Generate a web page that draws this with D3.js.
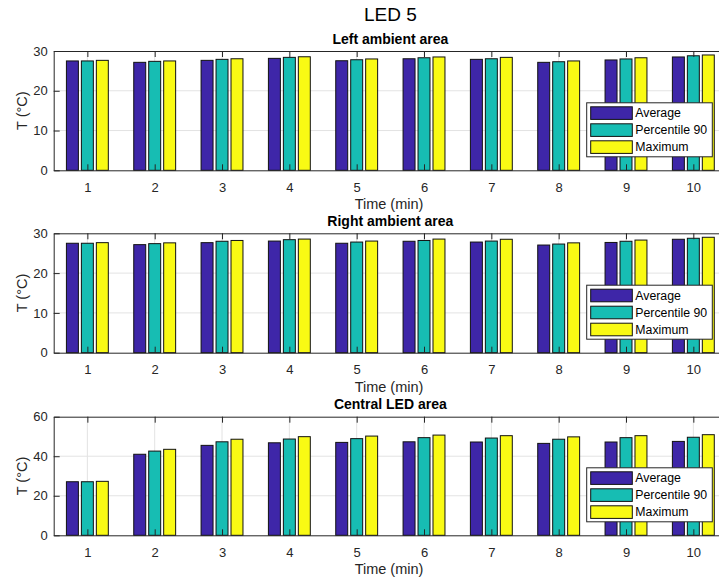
<!DOCTYPE html>
<html>
<head>
<meta charset="utf-8">
<script src="https://cdn.jsdelivr.net/npm/d3@7"></script>
<style>
  body { margin: 0; background: #fff; }
  svg { display: block; font-family: "Liberation Sans", Arial, sans-serif; }
</style>
</head>
<body>
<div id="chart"></div>
<script>
/* Data */
const minutes = [1, 2, 3, 4, 5, 6, 7, 8, 9, 10];
const seriesNames = ["Average", "Percentile 90", "Maximum"];

const leftAvg = [27.5, 27.15, 27.65, 28.15, 27.55, 28.05, 27.9, 27.15, 27.75, 28.5];
const leftP90 = [27.5, 27.4, 27.9, 28.4, 27.8, 28.3, 28.05, 27.3, 28.0, 28.8];
const leftMax = [27.65, 27.5, 28.05, 28.55, 28.0, 28.5, 28.4, 27.5, 28.3, 29.0];

const rightAvg = [27.5, 27.15, 27.65, 28.05, 27.5, 28.0, 27.8, 27.05, 27.7, 28.5];
const rightP90 = [27.5, 27.4, 28.0, 28.4, 27.8, 28.2, 28.05, 27.3, 28.0, 28.75];
const rightMax = [27.65, 27.6, 28.2, 28.55, 28.05, 28.55, 28.5, 27.6, 28.3, 29.0];

const centralAvg = [27.1, 41.0, 45.5, 46.8, 47.0, 47.3, 47.2, 46.5, 47.2, 47.5];
const centralP90 = [27.1, 42.6, 47.3, 48.7, 48.9, 49.4, 49.2, 48.6, 49.4, 49.6];
const centralMax = [27.3, 43.5, 48.6, 49.9, 50.2, 50.7, 50.4, 49.8, 50.4, 50.9];

const ticks30 = [0, 10, 20, 30];
const ticks60 = [0, 20, 40, 60];

/* Layout */
const WIDTH = 719;
const HEIGHT = 583;
const AX_LEFT = 53.7;
const AX_RIGHT = 727;
const TICK_LEN = 6;
const COLORS = ["#3e26a8", "#17bdb3", "#f9fa14"];
const AXIS_COLOR = "#262626";
const GRID_COLOR = "#e3e3e3";

const panels = [
  { title: "Left ambient area", top: 51, bottom: 170.3, max: 30, ticks: ticks30, series: [leftAvg, leftP90, leftMax] },
  { title: "Right ambient area", top: 233.3, bottom: 352.7, max: 30, ticks: ticks30, series: [rightAvg, rightP90, rightMax] },
  { title: "Central LED area", top: 416.7, bottom: 535.3, max: 60, ticks: ticks60, series: [centralAvg, centralP90, centralMax] }
];

/* MATLAB style grouped bar geometry (data units) */
const GROUP_WIDTH = Math.min(0.8, 3 / (3 + 1.5));
const BAR_W = GROUP_WIDTH / 3 * 0.8;
const offsets = [-GROUP_WIDTH / 3, 0, GROUP_WIDTH / 3];

const svg = d3.select("#chart")
  .append("svg")
  .attr("width", WIDTH)
  .attr("height", HEIGHT);

const xScale = d3.scaleLinear().domain([0.5, 10.5]).range([AX_LEFT, AX_RIGHT]);

svg.append("text")
  .attr("x", (AX_LEFT + AX_RIGHT) / 2)
  .attr("y", 21)
  .attr("text-anchor", "middle")
  .attr("font-size", "19px")
  .attr("fill", "#000")
  .text("LED 5");

panels.forEach((p) => {
  const yScale = d3.scaleLinear().domain([0, p.max]).range([p.bottom, p.top]);
  const g = svg.append("g");

  // grid
  g.selectAll(".hgrid")
    .data(p.ticks.slice(1, -1))
    .enter().append("line")
    .attr("x1", AX_LEFT).attr("x2", AX_RIGHT)
    .attr("y1", (d) => yScale(d)).attr("y2", (d) => yScale(d))
    .attr("stroke", GRID_COLOR).attr("stroke-width", 1);
  g.selectAll(".vgrid")
    .data(minutes)
    .enter().append("line")
    .attr("x1", (d) => xScale(d)).attr("x2", (d) => xScale(d))
    .attr("y1", p.top).attr("y2", p.bottom)
    .attr("stroke", GRID_COLOR).attr("stroke-width", 1);

  // bars
  p.series.forEach((vals, s) => {
    g.selectAll(".bar" + s)
      .data(vals)
      .enter().append("rect")
      .attr("x", (d, i) => xScale(minutes[i] + offsets[s] - BAR_W / 2))
      .attr("width", xScale(BAR_W) - xScale(0))
      .attr("y", (d) => yScale(d))
      .attr("height", (d) => yScale(0) - yScale(d))
      .attr("fill", COLORS[s])
      .attr("stroke", "#111")
      .attr("stroke-width", 1);
  });

  // axes (ticks inside, MATLAB style)
  const xAxis = d3.axisBottom(xScale).tickValues(minutes).tickSize(-TICK_LEN).tickSizeOuter(0).tickPadding(12);
  const xTop = d3.axisTop(xScale).tickValues(minutes).tickSize(-TICK_LEN).tickSizeOuter(0).tickFormat("");
  const yAxis = d3.axisLeft(yScale).tickValues(p.ticks).tickSize(-TICK_LEN).tickSizeOuter(0).tickPadding(6);
  const yRight = d3.axisRight(yScale).tickValues(p.ticks).tickSize(-TICK_LEN).tickSizeOuter(0).tickFormat("");

  [
    g.append("g").attr("transform", "translate(0," + p.bottom + ")").call(xAxis),
    g.append("g").attr("transform", "translate(0," + p.top + ")").call(xTop),
    g.append("g").attr("transform", "translate(" + AX_LEFT + ",0)").call(yAxis),
    g.append("g").attr("transform", "translate(" + AX_RIGHT + ",0)").call(yRight)
  ].forEach((ax) => {
    ax.select(".domain").attr("stroke", AXIS_COLOR);
    ax.selectAll(".tick line").attr("stroke", AXIS_COLOR);
    ax.selectAll(".tick text")
      .attr("fill", AXIS_COLOR)
      .attr("font-size", "13px")
      .attr("font-family", "'Liberation Sans', Arial, sans-serif");
  });

  // labels
  g.append("text")
    .attr("x", (AX_LEFT + AX_RIGHT) / 2)
    .attr("y", p.top - 7.5)
    .attr("text-anchor", "middle")
    .attr("font-size", "14px")
    .attr("font-weight", "bold")
    .attr("fill", "#000")
    .text(p.title);

  g.append("text")
    .attr("x", 389)
    .attr("y", p.bottom + 39)
    .attr("text-anchor", "middle")
    .attr("font-size", "14.5px")
    .attr("fill", AXIS_COLOR)
    .text("Time (min)");

  g.append("text")
    .attr("transform", "translate(27," + (p.top + p.bottom) / 2 + ") rotate(-90)")
    .attr("text-anchor", "middle")
    .attr("font-size", "14.5px")
    .attr("fill", AXIS_COLOR)
    .text("T (°C)");

  // legend
  const legX = 586.7, legW = 125.6, legH = 54;
  const legY = p.bottom - 13.5 - legH;
  const leg = g.append("g").attr("transform", "translate(" + legX + "," + legY + ")");
  leg.append("rect")
    .attr("width", legW).attr("height", legH)
    .attr("fill", "#fff").attr("stroke", AXIS_COLOR).attr("stroke-width", 1);
  seriesNames.forEach((name, s) => {
    leg.append("rect")
      .attr("x", 4).attr("y", 4 + s * 17)
      .attr("width", 41.6).attr("height", 12.6)
      .attr("fill", COLORS[s]).attr("stroke", "#111").attr("stroke-width", 1);
    leg.append("text")
      .attr("x", 48.6).attr("y", 10.3 + s * 17)
      .attr("dy", "0.35em")
      .attr("font-size", "12.3px")
      .attr("fill", "#000")
      .text(name);
  });
});
</script>
</body>
</html>
